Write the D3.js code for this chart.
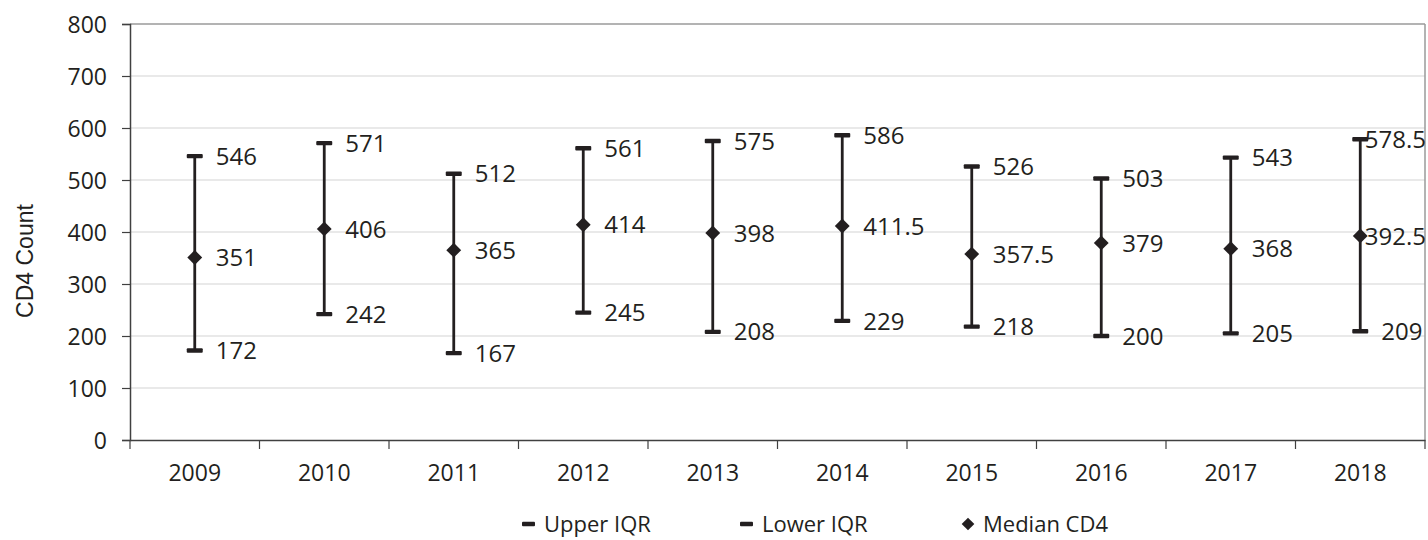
<!DOCTYPE html>
<html><head><meta charset="utf-8">
<script src="https://cdn.jsdelivr.net/npm/d3@7"></script>
<style>body{margin:0;background:#fff}svg{display:block}text{font-family:"Open Sans",sans-serif;fill:#231f20}</style>
</head><body><svg id="c" width="1428" height="540"></svg>
<script>
const years = ["2009","2010","2011","2012","2013","2014","2015","2016","2017","2018"];
const upperIQR = [546,571,512,561,575,586,526,503,543,578.5];
const medianCD4 = [351,406,365,414,398,411.5,357.5,379,368,392.5];
const lowerIQR = [172,242,167,245,208,229,218,200,205,209];
const yTicks = [0,100,200,300,400,500,600,700,800];
const legendLabels = ["Upper IQR","Lower IQR","Median CD4"];

const ink = "#231f20";
const svg = d3.select("#c");
const L = 130, R = 1425, T = 24, B = 440;
const x = d3.scaleBand().domain(years).range([L, R]);
const y = d3.scaleLinear().domain([0, 800]).range([B, T]);

// gridlines
svg.append("g").selectAll("line").data(yTicks.filter(d => d > 0)).join("line")
  .attr("x1", L).attr("x2", R).attr("y1", d => y(d)).attr("y2", d => y(d))
  .attr("stroke", d => d === 800 ? "#9a9a9a" : "#d4d4d4").attr("stroke-width", d => d === 800 ? 1.5 : 1.2);
// right border
svg.append("line").attr("x1", R).attr("x2", R).attr("y1", T).attr("y2", B).attr("stroke", "#9a9a9a").attr("stroke-width", 1.5);

// y axis
const ya = svg.append("g").attr("transform", `translate(${L},0)`)
  .call(d3.axisLeft(y).tickValues(yTicks).tickSize(8).tickPadding(15));
ya.attr("font-size", null).attr("font-family", null);
ya.select(".domain").attr("stroke", "#404040").attr("stroke-width", 1.5);
ya.selectAll(".tick line").attr("stroke", "#404040").attr("stroke-width", 1.2);
ya.selectAll(".tick text").style("font-size", "23px").attr("fill", ink).attr("dy", "0.36em");

// x axis
const xa = svg.append("g").attr("transform", `translate(0,${B})`)
  .call(d3.axisBottom(x).tickSize(0).tickPadding(25));
xa.attr("font-size", null).attr("font-family", null);
xa.select(".domain").attr("stroke", "#404040").attr("stroke-width", 1.5);
xa.selectAll(".tick text").style("font-size", "23px").attr("fill", ink);
svg.append("g").selectAll("line").data(years.concat(["end"])).join("line")
  .attr("x1", (d, i) => L + i * x.step()).attr("x2", (d, i) => L + i * x.step())
  .attr("y1", B).attr("y2", B + 9).attr("stroke", "#404040").attr("stroke-width", 1.2);

// y title
svg.append("text").attr("transform", "translate(33,261) rotate(-90)").attr("text-anchor", "middle")
  .style("font-family", "'Liberation Sans', Arial, sans-serif").style("font-size", "23px").text("CD4 Count");

const data = years.map((yr, i) => ({yr, u: upperIQR[i], m: medianCD4[i], l: lowerIQR[i]}));
const cx = d => x(d.yr) + x.bandwidth() / 2;
const g = svg.append("g");
g.selectAll("line.v").data(data).join("line").attr("class", "v")
  .attr("x1", cx).attr("x2", cx).attr("y1", d => y(d.u)).attr("y2", d => y(d.l))
  .attr("stroke", ink).attr("stroke-width", 2.8);
["u", "l"].forEach(k => {
  g.selectAll("rect.c" + k).data(data).join("rect").attr("class", "c" + k)
    .attr("x", d => cx(d) - 8).attr("y", d => y(d[k]) - 2.2).attr("width", 16).attr("height", 4.4)
    .attr("rx", 1).attr("fill", ink);
});
g.selectAll("path.m").data(data).join("path").attr("class", "m")
  .attr("d", d3.symbol().type(d3.symbolSquare).size(110))
  .attr("transform", d => `translate(${cx(d)},${y(d.m)}) rotate(45)`).attr("fill", ink);

// data labels
["u", "m", "l"].forEach(k => {
  g.selectAll("text.t" + k).data(data).join("text").attr("class", "t" + k)
    .attr("y", d => y(d[k])).attr("dy", "0.36em").style("font-size", "24px")
    .text(d => d[k])
    .each(function(d) {
      const w = this.getComputedTextLength();
      d3.select(this).attr("x", Math.min(cx(d) + 21, R + 1 - w));
    });
});

// legend
const lg = svg.append("g").attr("transform", "translate(0,524)");
const lx = [522, 740, 962];
lg.selectAll("rect").data([0, 1]).join("rect")
  .attr("x", i => lx[i]).attr("y", -2.2).attr("width", 13).attr("height", 4.4).attr("rx", 1).attr("fill", ink);
lg.append("path").attr("d", d3.symbol().type(d3.symbolSquare).size(80)())
  .attr("transform", `translate(${lx[2] + 6},0) rotate(45)`).attr("fill", ink);
lg.selectAll("text").data(legendLabels).join("text")
  .attr("x", (d, i) => lx[i] + (i === 2 ? 21 : 22)).attr("dy", "0.36em").style("font-size", "22px").text(d => d);
</script></body></html>
